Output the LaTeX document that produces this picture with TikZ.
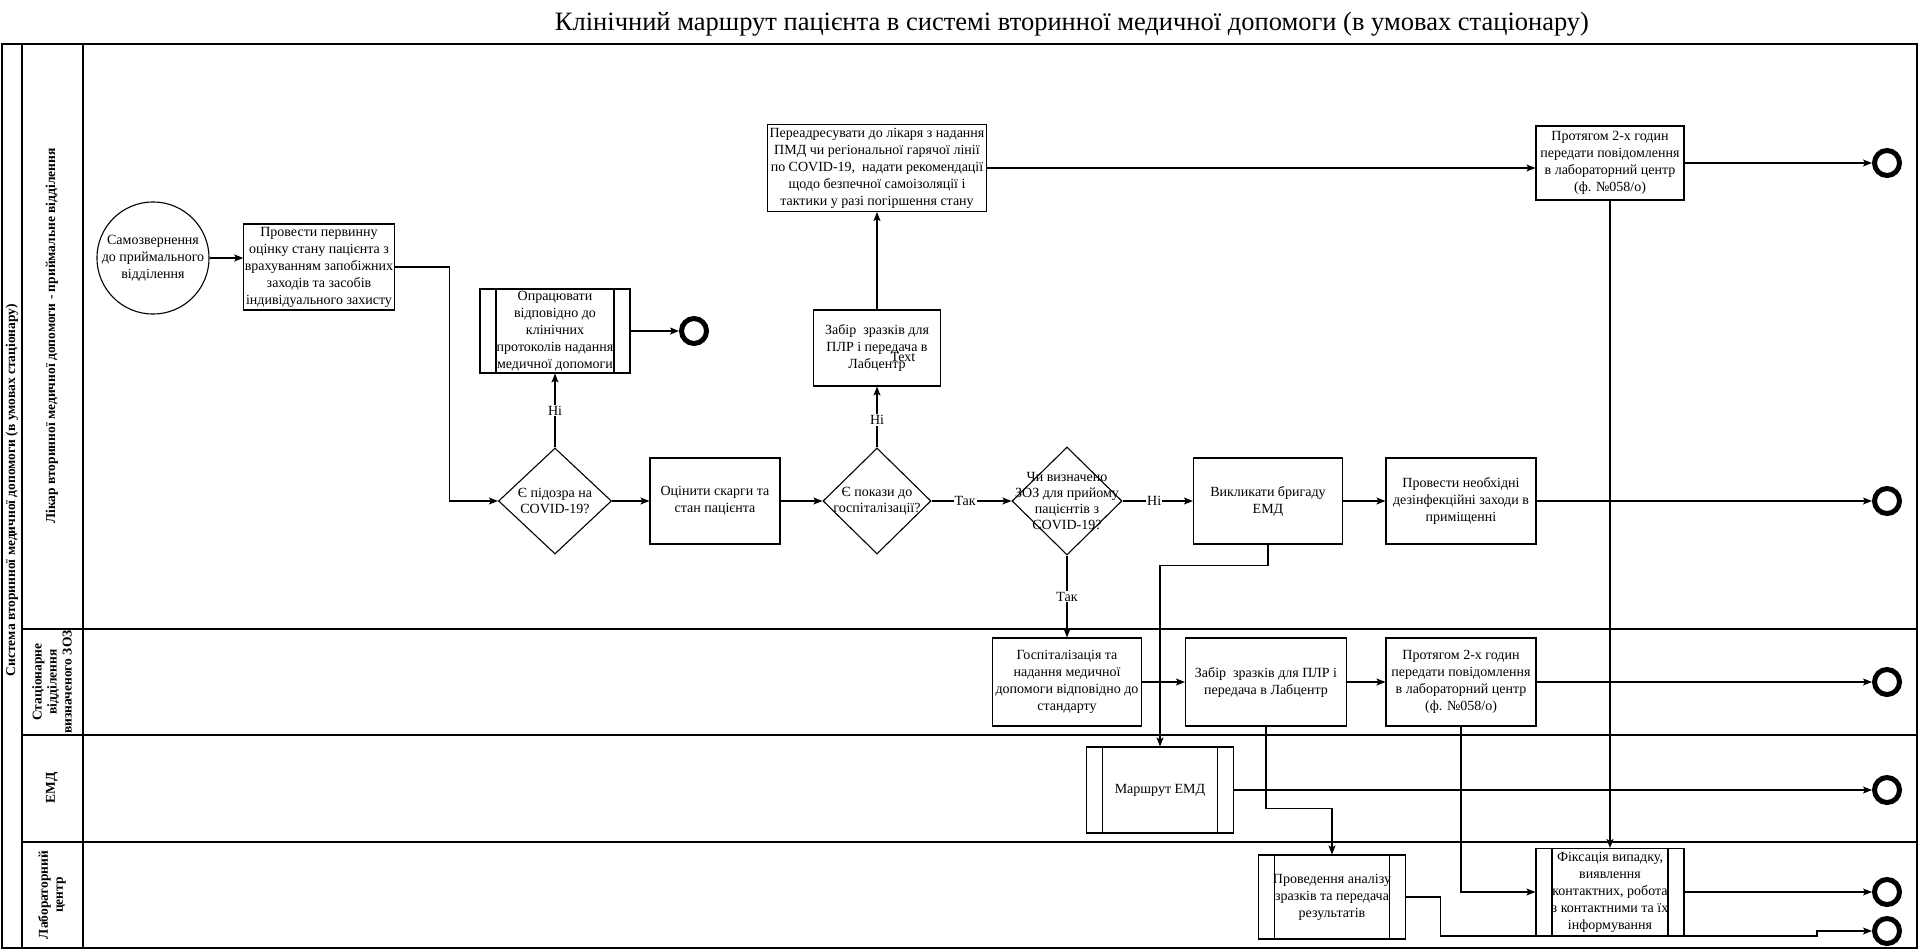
\documentclass[tikz,border=0pt]{standalone}
\usepackage{fontspec}
\setmainfont{Liberation Serif}
\usetikzlibrary{shapes.geometric,arrows.meta,calc}
\begin{document}
\begin{tikzpicture}[x=1pt,y=-1pt,
  font=\fontsize{14}{17}\selectfont,
  sz/.style n args={2}{minimum width=#1pt, minimum height=#2pt},
  proc/.style={draw, line width=1.1pt, align=center, inner sep=1pt},
  subproc/.style={proc, path picture={\draw[line width=1.1pt]
      ([xshift=16pt]path picture bounding box.north west) -- ([xshift=16pt]path picture bounding box.south west)
      ([xshift=-16pt]path picture bounding box.north east) -- ([xshift=-16pt]path picture bounding box.south east);}},
  decision/.style={diamond, draw, line width=1.1pt, inner sep=0pt},
  dtext/.style={align=center, font=\fontsize{14}{16}\selectfont},
  endev/.style={circle, draw, line width=5pt, minimum size=25pt, inner sep=0pt},
  startev/.style={circle, draw, line width=1.1pt, inner sep=0pt, align=center, minimum size=106pt},
  arr/.style={line width=1.1pt, -{Stealth[length=9pt,width=7pt,inset=2pt]}},
  elab/.style={fill=white, inner sep=1pt},
  lanelab/.style={rotate=90, align=center, font=\bfseries\fontsize{13.5}{15}\selectfont},
  frame/.style={line width=1.4pt}
]
\useasboundingbox (0,0) rectangle (1920,950);

% title
\node[font=\fontsize{26.5}{30}\selectfont] (title) at (1072,24) {Клінічний маршрут пацієнта в системі вторинної медичної допомоги (в умовах стаціонару)};

% pool and lanes
\draw[frame] (2,44) rectangle (1917,948);
\draw[frame] (22,44) -- (22,948);
\draw[frame] (83,44) -- (83,948);
\draw[frame] (22,629) -- (1917,629);
\draw[frame] (22,735) -- (1917,735);
\draw[frame] (22,842) -- (1917,842);

\node[lanelab] (pool) at (12,490) {Система вторинної медичної допомоги (в умовах стаціонару)};
\node[lanelab] (lane1) at (52,336) {Лікар вторинної медичної допомоги - приймальне відділення};
\node[lanelab] (lane2) at (52,682) {Стаціонарне\\відділення\\визначеного ЗОЗ};
\node[lanelab] (lane3) at (52,788) {ЕМД};
\node[lanelab] (lane4) at (52,895) {Лабораторний\\центр};

% lane 1 nodes
\node[startev] (start) at (153,258) {Самозвернення\\до приймального\\відділення};
\node[proc, sz={150}{86}] (prov1) at (319,267) {Провести первинну\\оцінку стану пацієнта з\\врахуванням запобіжних\\заходів та засобів\\індивідуального захисту};
\node[decision, sz={113}{106}, label={[dtext]center:Є підозра на\\COVID-19?}] (d1) at (555,501) {};
\node[subproc, sz={150}{84}] (opr) at (555,331) {Опрацювати\\відповідно до\\клінічних\\протоколів надання\\медичної допомоги};
\node[endev] (end1) at (694,331) {};
\node[proc, sz={130}{86}] (ocin) at (715,501) {Оцінити скарги та\\стан пацієнта};
\node[decision, sz={108}{106}, label={[dtext]center:Є покази до\\госпіталізації?}] (d2) at (877,501) {};
\node[proc, sz={127}{76}] (zabir1) at (877,348) {Забір~ зразків для\\ПЛР і передача в\\Лабцентр};
\node (zabirtext) at (903,357) {Text};
\node[proc, sz={219}{87}] (pereadr) at (877,168) {Переадресувати до лікаря з надання\\ПМД чи регіональної гарячої лінії\\по COVID-19,~ надати рекомендації\\щодо безпечної самоізоляції і\\тактики у разі погіршення стану};
\node[proc, sz={148}{74}] (prot1) at (1610,163) {Протягом 2-х годин\\передати повідомлення\\в лабораторний центр\\(ф. №058/о)};
\node[endev] (end2) at (1887,163) {};
\node[decision, sz={110}{108}, label={[dtext]center:Чи визначено\\ЗОЗ для прийому\\пацієнтів з\\COVID-19?}] (d3) at (1067,501) {};
\node[proc, sz={149}{86}] (vyk) at (1268,501) {Викликати бригаду\\ЕМД};
\node[proc, sz={150}{86}] (dez) at (1461,501) {Провести необхідні\\дезінфекційні заходи в\\приміщенні};
\node[endev] (end3) at (1887,501) {};

% lane 2 nodes
\node[proc, sz={149}{88}] (hosp) at (1067,682) {Госпіталізація та\\надання медичної\\допомоги відповідно до\\стандарту};
\node[proc, sz={161}{88}] (zabir2) at (1266,682) {Забір~ зразків для ПЛР і\\передача в Лабцентр};
\node[proc, sz={150}{88}] (prot2) at (1461,682) {Протягом 2-х годин\\передати повідомлення\\в лабораторний центр\\(ф. №058/о)};
\node[endev] (end4) at (1887,682) {};

% lane 3 nodes
\node[subproc, sz={147}{86}] (marsh) at (1160,790) {Маршрут ЕМД};
\node[endev] (end5) at (1887,790) {};

% lane 4 nodes
\node[subproc, sz={147}{84}] (analiz) at (1332,897) {Проведення аналізу\\зразків та передача\\результатів};
\node[subproc, sz={148}{87}] (fiks) at (1610,892) {Фіксація випадку,\\виявлення\\контактних, робота\\з контактними та їх\\інформування};
\node[endev] (end6) at (1887,892) {};
\node[endev] (end7) at (1887,931) {};

% connectors
\draw[arr] (start.east) -- (start.east -| prov1.west);
\draw[arr] (prov1.east) -- ++(55,0) |- (d1.west);
\draw[arr] (d1.north) -- node[elab] {Ні} (opr.south);
\draw[arr] (opr.east) -- (end1.west);
\draw[arr] (d1.east) -- (ocin.west);
\draw[arr] (ocin.east) -- (d2.west);
\draw[arr] (d2.north) -- node[elab, pos=0.45] {Ні} (zabir1.south);
\draw[arr] (zabir1.north) -- (pereadr.south);
\draw[arr] (pereadr.east) -- (pereadr.east -| prot1.west);
\draw[arr] (prot1.east) -- (end2.west);
\draw[arr] (d2.east) -- node[elab, pos=0.42] {Так} (d3.west);
\draw[arr] (d3.east) -- node[elab, pos=0.45] {Ні} (vyk.west);
\draw[arr] (vyk.east) -- (dez.west);
\draw[arr] (dez.east) -- (end3.west);
\draw[arr] (d3.south) -- node[elab, pos=0.5] {Так} (hosp.north);
\draw[arr] (hosp.east) -- (zabir2.west);
\draw[arr] (zabir2.east) -- (prot2.west);
\draw[arr] (prot2.east) -- (end4.west);
\draw[arr] (vyk.south) -- ++(0,21) -| (marsh.north);
\draw[arr] (marsh.east) -- (end5.west);
\draw[arr] (zabir2.south) -- ++(0,82) -| (analiz.north);
\draw[arr] (prot1.south) -- (fiks.north);
\draw[arr] (prot2.south) |- (fiks.west);
\draw[arr] (fiks.east) -- (end6.west);
\draw[arr] (analiz.east) -- ++(34,0) -- ++(0,39) -| ([xshift=-55pt]end7.west) -- (end7.west);
\end{tikzpicture}
\end{document}
